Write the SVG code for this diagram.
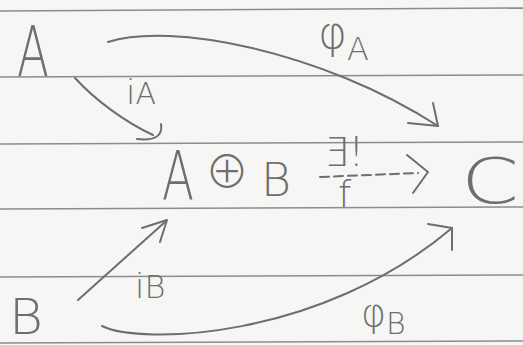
<svg xmlns="http://www.w3.org/2000/svg" width="523" height="345" viewBox="0 0 523 345">
<style>
.rule{stroke:#8c8c8c;stroke-width:1.5;fill:none}
.pen{stroke:#6e6e6e;stroke-width:2;fill:none;stroke-linecap:round;stroke-linejoin:round}
.t{font-family:"DejaVu Sans","Liberation Sans",sans-serif;font-weight:200;fill:#6e6e6e}
.op{font-family:"Noto Sans CJK JP","DejaVu Sans",sans-serif;font-weight:300;fill:#6e6e6e}
</style>
<rect width="523" height="345" fill="#f6f6f5"/>
<g id="paper">
<line class="rule" x1="0" y1="11" x2="523" y2="8"/>
<line class="rule" x1="0" y1="77" x2="523" y2="75"/>
<line class="rule" x1="0" y1="144" x2="523" y2="142"/>
<line class="rule" x1="0" y1="209" x2="523" y2="207"/>
<line class="rule" x1="0" y1="277" x2="523" y2="275"/>
<line class="rule" x1="0" y1="343" x2="523" y2="341"/>
</g>
<g id="connectors">
<g id="iA">
<path class="pen" d="M75,78 C95,100 125,122 153,135"/>
<path class="pen" d="M161,124 Q164,142 137,139"/>
<text class="t" x="126" y="104" font-size="34">i<tspan font-size="30">A</tspan></text>
</g>
<g id="phiA">
<path class="pen" d="M108,42 C170,22 320,50 438,126"/>
<path class="pen" d="M433,103 L438,126 L408,123"/>
<text class="t" x="318" y="48" font-size="44">φ<tspan font-size="32" dy="12">A</tspan></text>
</g>
<g id="f">
<path class="pen" d="M320,177 L418,173" stroke-dasharray="9 5"/>
<path class="pen" d="M407,155 L428,172 L413,193"/>
<text class="t" x="324" y="166" font-size="40" textLength="40" lengthAdjust="spacingAndGlyphs">∃!</text>
<text class="t" x="338" y="207" font-size="38">f</text>
</g>
<g id="iB">
<path class="pen" d="M78,300 L165,222"/>
<path class="pen" d="M142,228 L167,220 L160,242"/>
<text class="t" x="135" y="298" font-size="34">i<tspan font-size="32">B</tspan></text>
</g>
<g id="phiB">
<path class="pen" d="M102,326 C140,345 320,340 452,228"/>
<path class="pen" d="M428,224 L452,228 L452,250"/>
<text class="t" x="361" y="326" font-size="38">φ<tspan font-size="30" dy="8">B</tspan></text>
</g>
</g>
<g id="node-A"><text class="t" x="17" y="76" font-size="70" textLength="32" lengthAdjust="spacingAndGlyphs">A</text></g>
<g id="node-AB">
<text class="t" x="162" y="200" font-size="68" textLength="32" lengthAdjust="spacingAndGlyphs">A</text>
<text class="op" x="205" y="188" font-size="44">⊕</text>
<text class="t" x="261" y="196" font-size="46" textLength="30" lengthAdjust="spacingAndGlyphs">B</text>
</g>
<g id="node-C"><text class="t" x="461" y="203" font-size="62" textLength="58" lengthAdjust="spacingAndGlyphs">C</text></g>
<g id="node-B"><text class="t" x="9" y="334" font-size="50" textLength="34" lengthAdjust="spacingAndGlyphs">B</text></g>
</svg>
